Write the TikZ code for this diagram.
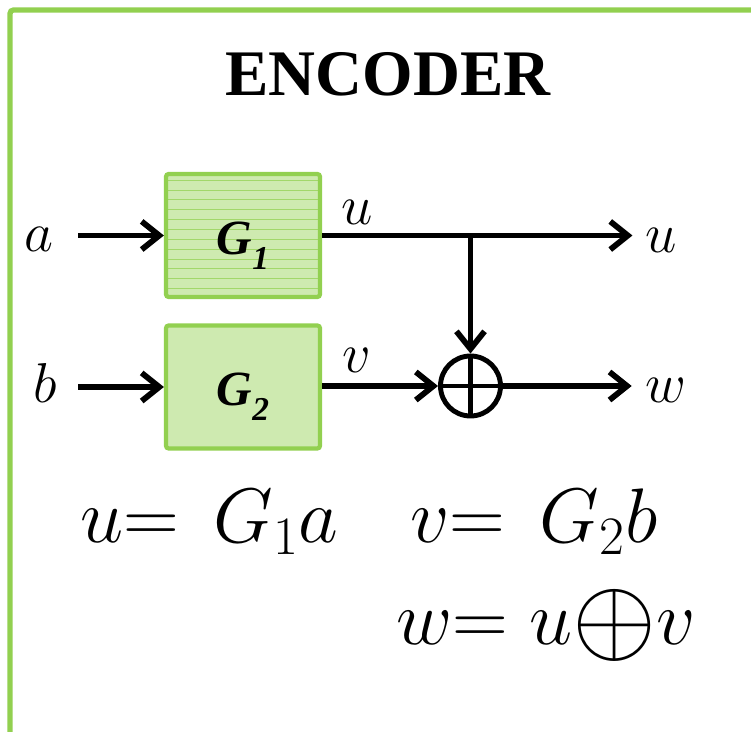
\RequirePackage{fix-cm}
\documentclass[tikz,border=0pt]{standalone}
\usepackage{amsmath}
\usepackage{fontspec}
\setmainfont{Liberation Serif}
\usepackage{graphicx}
\usetikzlibrary{
    positioning,
    arrows.meta,
    calc,
}
\definecolor{framegreen}{HTML}{92D050}
\tikzset{
    % Node styles
    gen block/.style={rectangle, draw=framegreen, line width=2.4pt, rounded corners=1.5pt,
                      fill=framegreen!45, minimum width=3.08cm, minimum height=2.46cm,
                      inner sep=0pt, font=\fontsize{28}{30}\selectfont\bfseries\itshape},
    striped block/.style={gen block, path picture={
        \foreach \k in {0.05,0.13,...,0.95}
            \draw[framegreen!85, line width=0.4pt]
                ($(path picture bounding box.north west)!\k!(path picture bounding box.south west)$) -- ++(3.2cm,0);
    }},
    xor node/.style={circle, draw, line width=2.8pt, minimum size=1.2cm, inner sep=0pt,
                     path picture={
        \draw[line width=2.8pt] (path picture bounding box.north) -- (path picture bounding box.south)
                                (path picture bounding box.west) -- (path picture bounding box.east);
    }},
    signal/.style={inner sep=0pt, font=\fontsize{32}{34}\selectfont},
    eqn/.style={inner sep=0pt, anchor=base west, font=\fontsize{44}{46}\selectfont},
    % Arrow styles
    wire/.style={line width=3.3pt},
    arrow/.style={wire, -{Straight Barb[length=10pt, width=16pt]}},
}

\begin{document}
\begin{tikzpicture}[x=0.02cm, y=-0.02cm]
    \useasboundingbox (0,0) rectangle (751,732);

    % Frame
    \draw[framegreen, line width=3pt, rounded corners=2pt] (10,732) -- (10,10) -- (751,10);

    % Title
    \node[font=\fontsize{37}{40}\selectfont\bfseries] (title) at (388,74) {ENCODER};

    % Generators and adder
    \node[striped block] (g1) at (243,235.5)
        {\raisebox{-4.5pt}[0.65em][0.2em]{G\raisebox{-0.3em}{\fontsize{19}{19}\selectfont 1}}};
    \node[gen block] (g2) at (243,387)
        {\raisebox{-4.5pt}[0.65em][0.2em]{G\raisebox{-0.3em}{\fontsize{19}{19}\selectfont 2}}};
    \node[xor node] (sum) at (470.5,386) {};
    \coordinate (tap) at (sum |- g1);

    % Signals
    \node[signal] (a) at (39,239) {$a$};
    \node[signal] (b) at (45,383) {$b$};
    \node[signal] (ul) at (357,212) {$u$};
    \node[signal] (vl) at (357,360) {$v$};
    \node[signal] (uo) at (661,240) {$u$};
    \node[signal] (wo) at (666,390) {$w$};

    % Connections
    \draw[arrow, shorten <=0.49cm] (a.east |- g1.west) -- (g1.west);
    \draw[arrow, shorten <=0.42cm] (b.east |- g2.west) -- (g2.west);
    \draw[wire] (g1.east) -- (tap);
    \draw[arrow, shorten >=0.25cm] (tap) -- (tap -| uo.west);
    \draw[arrow] (tap) -- (sum.north);
    \draw[arrow] (g2.east |- sum.west) -- (sum.west);
    \draw[arrow, shorten >=0.27cm] (sum.east) -- (sum.east -| wo.west);

    % Equations
    \node[eqn] (equ) at (80,543) {$u{=}\mskip8mu G_1a$};
    \node[eqn] (eqv) at (410,543) {$v{=}\mskip8mu G_2b$};
    \node[eqn] (eqw) at (396,645) {$w{=}\mskip5mu u\vcenter{\hbox{\scalebox{1.4}{$\oplus$}}}v$};
\end{tikzpicture}
\end{document}
